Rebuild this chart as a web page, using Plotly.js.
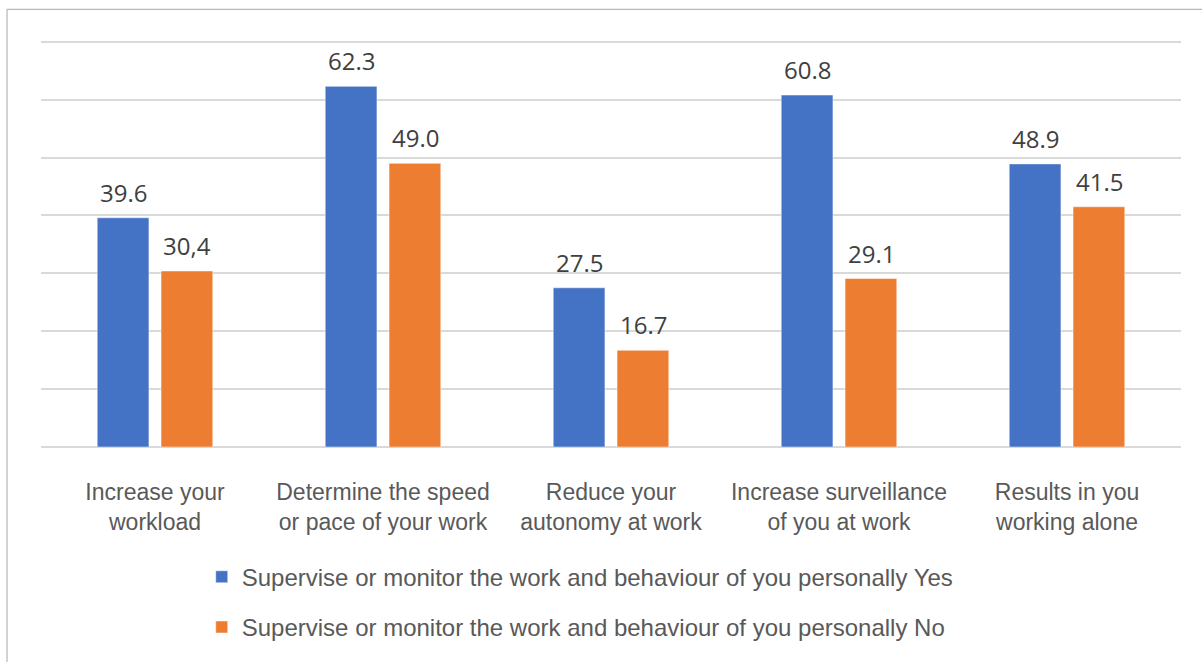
<!DOCTYPE html>
<html>
<head>
<meta charset="utf-8">
<script src="https://cdn.plot.ly/plotly-3.0.1.min.js"></script>
<style>
  html, body { margin: 0; padding: 0; background: #ffffff; }
  #chart { width: 1202px; height: 662px; }
</style>
</head>
<body>
<div id="chart"></div>
<script>
// Survey categories (x axis)
const categories = [
  'Increase your<br>workload',
  'Determine the speed<br>or pace of your work',
  'Reduce your<br>autonomy at work',
  'Increase surveillance<br>of you at work',
  'Results in you<br>working alone'
];

// Series names
const yesName = 'Supervise or monitor the work and behaviour of you personally Yes';
const noName = 'Supervise or monitor the work and behaviour of you personally No';

// Percentages per category
const yesValues = [39.6, 62.3, 27.5, 60.8, 48.9];
const noValues = [30.4, 49.0, 16.7, 29.1, 41.5];

// Value labels as printed above the bars
const yesLabels = ['39.6', '62.3', '27.5', '60.8', '48.9'];
const noLabels = ['30,4', '49.0', '16.7', '29.1', '41.5'];

const yesColor = '#4472C4';
const noColor = '#ED7D31';
const narrowFont = '"Liberation Sans Narrow", "Arial Narrow", "Liberation Sans", sans-serif';
const labelFont = '"Open Sans", "Noto Sans", sans-serif';

const traces = [
  {
    type: 'bar', name: yesName, x: categories, y: yesValues,
    marker: { color: yesColor, line: { color: 'rgba(255,255,255,0.6)', width: 0.8 } },
    legendgroup: 'yes', hoverinfo: 'y'
  },
  {
    type: 'bar', name: noName, x: categories, y: noValues,
    marker: { color: noColor, line: { color: 'rgba(255,255,255,0.6)', width: 0.8 } },
    legendgroup: 'no', hoverinfo: 'y'
  }
];

// Value labels sit above each bar, offset to the bar's slot inside the group
const barOffset = 32;
const annotations = [];
categories.forEach((c, i) => {
  annotations.push({
    x: c, y: yesValues[i], text: yesLabels[i], xshift: -barOffset, yshift: 7,
    yanchor: 'bottom', showarrow: false,
    font: { family: labelFont, size: 24, color: '#404040' }
  });
  annotations.push({
    x: c, y: noValues[i], text: noLabels[i], xshift: barOffset, yshift: 7,
    yanchor: 'bottom', showarrow: false,
    font: { family: labelFont, size: 24, color: '#404040' }
  });
});

// Plot area: 0 at y=457px, 70 at y=42px, range extends to 71 so the 70 gridline shows
const layout = {
  width: 1202, height: 662,
  margin: { l: 41, r: 21, t: 36, b: 205 },
  paper_bgcolor: '#ffffff', plot_bgcolor: '#ffffff',
  barmode: 'group', bargap: 0.44, bargroupgap: 0.19,
  showlegend: true,
  legend: {
    orientation: 'v', x: 0.141, xanchor: 'left', y: -0.262, yanchor: 'top',
    font: { family: narrowFont, size: 24, color: '#595959' },
    tracegroupgap: 16, bgcolor: 'rgba(0,0,0,0)'
  },
  xaxis: {
    type: 'category', showgrid: false, zeroline: false, showline: false,
    ticks: '', ticklabelstandoff: 29,
    tickfont: { family: narrowFont, size: 23, color: '#595959' },
    fixedrange: true
  },
  yaxis: {
    range: [0, 71], tick0: 0, dtick: 10, showticklabels: false, ticks: '',
    showgrid: true, gridcolor: '#d9d9d9', gridwidth: 2,
    zeroline: true, zerolinecolor: '#d9d9d9', zerolinewidth: 2,
    showline: false, fixedrange: true
  },
  annotations: annotations,
  shapes: [{
    type: 'rect', xref: 'paper', yref: 'paper',
    x0: -0.0298, x1: 1.1, y0: -0.7, y1: 1.065,
    line: { color: '#a6a6a6', width: 1 }, fillcolor: 'rgba(0,0,0,0)', layer: 'below'
  }]
};

Plotly.newPlot('chart', traces, layout, { displayModeBar: false, staticPlot: true });
</script>
</body>
</html>
